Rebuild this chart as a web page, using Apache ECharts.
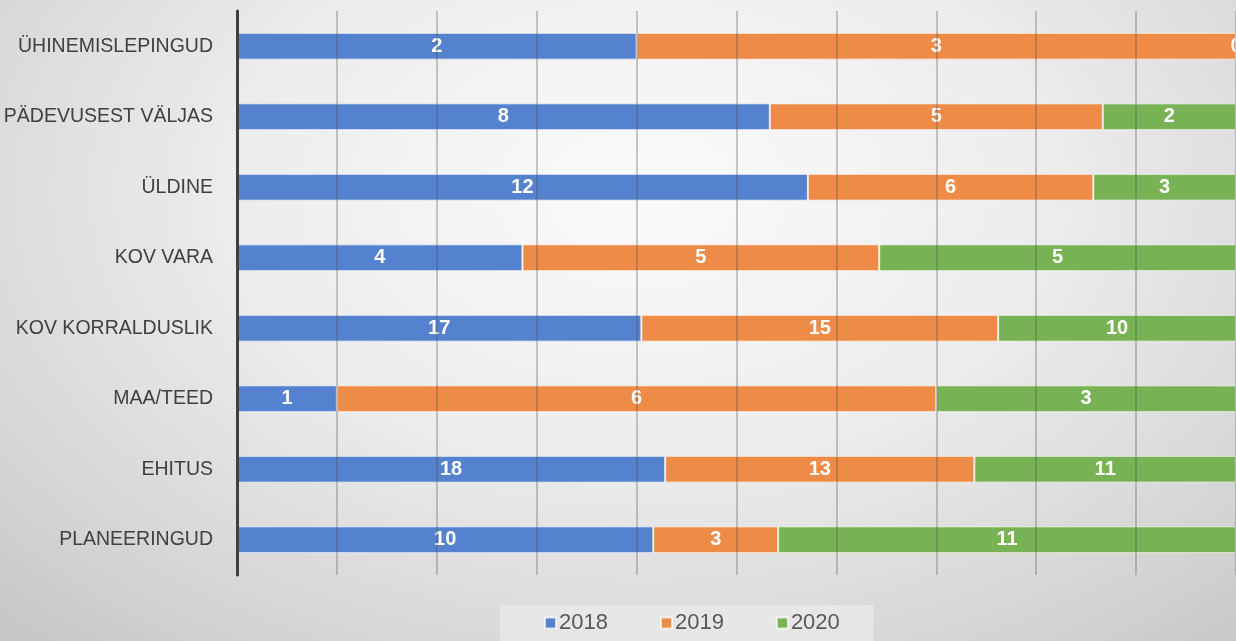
<!DOCTYPE html>
<html><head><meta charset="utf-8">
<script src="https://cdn.jsdelivr.net/npm/echarts@6/dist/echarts.min.js"></script>
<style>
html,body{margin:0;padding:0;width:1236px;height:641px;overflow:hidden;
background: radial-gradient(ellipse 75% 95% at 52% 30%, #fbfbfb 0%, #ececec 45%, #d2d2d2 85%, #c6c6c6 100%);}
#c{width:1236px;height:641px;}
</style></head>
<body><div id="c"></div>
<script>
const categories = ['PLANEERINGUD','EHITUS','MAA/TEED','KOV KORRALDUSLIK','KOV VARA','ÜLDINE','PÄDEVUSEST VÄLJAS','ÜHINEMISLEPINGUD'];
const seriesNames = ['2018','2019','2020'];
const v2018 = [10,18,1,17,4,12,8,2];
const v2019 = [3,13,6,15,5,6,5,3];
const v2020 = [11,11,3,10,5,3,2,0];
const colors = ['#5582CE','#EE8B47','#77B255'];

const raw = [v2018, v2019, v2020];
const totals = categories.map((_, i) => v2018[i] + v2019[i] + v2020[i]);

const chart = echarts.init(document.getElementById('c'));
chart.setOption({
  backgroundColor: 'transparent',
  animation: false,
  textStyle: {fontFamily: 'Liberation Sans'},
  grid: {left: 237, width: 1000, top: 11, bottom: 66},
  legend: {
    data: seriesNames, bottom: 0, left: 500, height: 36,
    itemWidth: 11, itemHeight: 11, itemGap: 52, icon: 'rect',
    padding: [7, 34, 7, 44],
    backgroundColor: 'rgba(240,240,240,0.55)',
    textStyle: {color: '#595959', fontSize: 22, fontFamily: 'Liberation Sans', padding: [0, 0, 0, -2]}
  },
  xAxis: {
    type: 'value', min: 0, max: 100, interval: 10, z: 5,
    axisLabel: {show: false}, axisLine: {show: false}, axisTick: {show: false},
    splitLine: {show: true, lineStyle: {color: 'rgba(80,80,80,0.4)', width: 1.5}}
  },
  yAxis: {
    type: 'category', data: categories, z: 6,
    axisLine: {show: true, lineStyle: {color: '#404040', width: 3}},
    axisTick: {show: false},
    axisLabel: {color: '#404040', fontSize: 19.5, margin: 24}
  },
  series: seriesNames.map((name, s) => ({
    name, type: 'bar', stack: 'total', barWidth: '38%',
    data: raw[s].map((v, i) => v / totals[i] * 100),
    itemStyle: {color: colors[s], borderColor: 'rgba(255,255,255,0.7)', borderWidth: 1},
    label: {
      show: true, position: 'inside', color: '#fff', fontWeight: 'bold', fontSize: 20,
      formatter: p => String(raw[s][p.dataIndex])
    },
    z: 1
  }))
});
</script></body></html>
